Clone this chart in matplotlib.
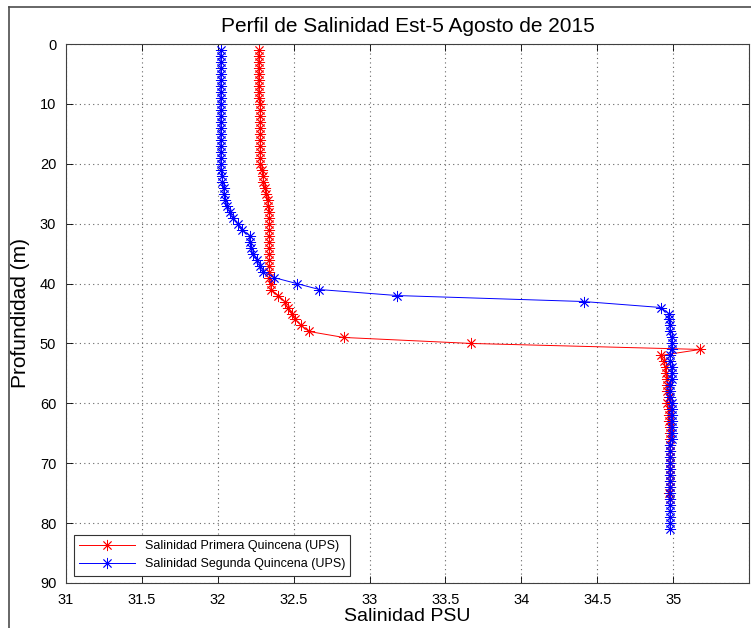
import numpy as np
import matplotlib.pyplot as plt
from matplotlib.lines import Line2D

plt.rcParams['font.family'] = ['Liberation Sans', 'DejaVu Sans']

# Salinidad primera quincena (profundidad 1..76 m)
prof_1 = list(range(1, 77))
sal_1 = [32.27, 32.27, 32.27, 32.27, 32.27, 32.27, 32.27, 32.27, 32.27, 32.28,
         32.28, 32.28, 32.28, 32.28, 32.28, 32.28, 32.28, 32.28, 32.28, 32.28,
         32.29, 32.30, 32.30, 32.31, 32.32, 32.33, 32.33, 32.34, 32.34, 32.34,
         32.34, 32.34, 32.34, 32.34, 32.34, 32.34, 32.34, 32.34, 32.34, 32.35,
         32.35, 32.40, 32.44, 32.46, 32.49, 32.51, 32.55, 32.60, 32.83, 33.67,
         35.18, 34.92, 34.94, 34.95, 34.95, 34.96, 34.96, 34.96, 34.97, 34.96,
         34.97, 34.97, 34.97, 34.98, 34.98, 34.98, 34.98, 34.98, 34.98, 34.98,
         34.98, 34.98, 34.98, 34.98, 34.97, 34.98]

# Salinidad segunda quincena (profundidad 1..81 m)
prof_2 = list(range(1, 82))
sal_2 = [32.02, 32.02, 32.02, 32.02, 32.02, 32.02, 32.02, 32.02, 32.02, 32.02,
         32.02, 32.02, 32.02, 32.02, 32.02, 32.02, 32.02, 32.02, 32.02, 32.02,
         32.02, 32.03, 32.03, 32.04, 32.04, 32.05, 32.06, 32.08, 32.10, 32.13,
         32.16, 32.21, 32.21, 32.22, 32.23, 32.26, 32.28, 32.30, 32.37, 32.52,
         32.67, 33.18, 34.41, 34.92, 34.97, 34.97, 34.98, 34.98, 34.99, 34.99,
         34.99, 34.98, 34.98, 34.99, 34.99, 34.99, 34.98, 34.98, 34.98, 34.99,
         34.99, 34.99, 34.99, 34.99, 34.99, 34.99, 34.98, 34.98, 34.98, 34.98,
         34.98, 34.98, 34.98, 34.98, 34.98, 34.98, 34.98, 34.98, 34.98, 34.98,
         34.98]

x_ticks = [31, 31.5, 32, 32.5, 33, 33.5, 34, 34.5, 35, 35.5]
x_labels = ['31', '31.5', '32', '32.5', '33', '33.5', '34', '34.5', '35', '']
y_ticks = [0, 10, 20, 30, 40, 50, 60, 70, 80, 90]

asterisco = (8, 2, 0)  # como el '*' de MATLAB

fig = plt.figure(figsize=(7.51, 6.28), dpi=100)
ax = fig.add_axes([66 / 751, 45 / 628, 683 / 751, 539 / 628])

ax.plot(sal_1, prof_1, color='r', ls='-', marker=asterisco, lw=0.7, ms=8,
        mew=0.6, label='Salinidad Primera Quincena (UPS)')
ax.plot(sal_2, prof_2, color='b', ls='-', marker=asterisco, lw=0.7, ms=8,
        mew=0.6, label='Salinidad Segunda Quincena (UPS)')

ax.set_xlim(31, 35.5)
ax.set_ylim(90, 0)
ax.set_xticks(x_ticks)
ax.set_xticklabels(x_labels)
ax.set_yticks(y_ticks)
ax.tick_params(direction='in', top=True, right=True, labelsize=10.5,
               length=5, width=0.6, pad=7)
ax.grid(True, linestyle=(0, (1, 3)), color='0.4', linewidth=0.8)
for s in ax.spines.values():
    s.set_linewidth(0.8)
    s.set_color('0.25')

ax.set_title('Perfil de Salinidad Est-5 Agosto de 2015', fontsize=15, pad=9)
ax.set_xlabel('Salinidad PSU', fontsize=14, labelpad=1)
ax.set_ylabel('Profundidad (m)', fontsize=15, labelpad=7)

leg = ax.legend(loc='lower left', fontsize=9, fancybox=False, framealpha=1,
                edgecolor='0.2', borderaxespad=0.6, handlelength=4.5)
leg.get_frame().set_linewidth(0.8)

# marco de la figura
fig.add_artist(Line2D([9 / 751, 9 / 751], [0, 1 - 7 / 628], color='0.3', lw=1.2))
fig.add_artist(Line2D([9 / 751, 1], [1 - 7 / 628, 1 - 7 / 628], color='0.3', lw=1.2))

fig.savefig('out.png', dpi=100)
